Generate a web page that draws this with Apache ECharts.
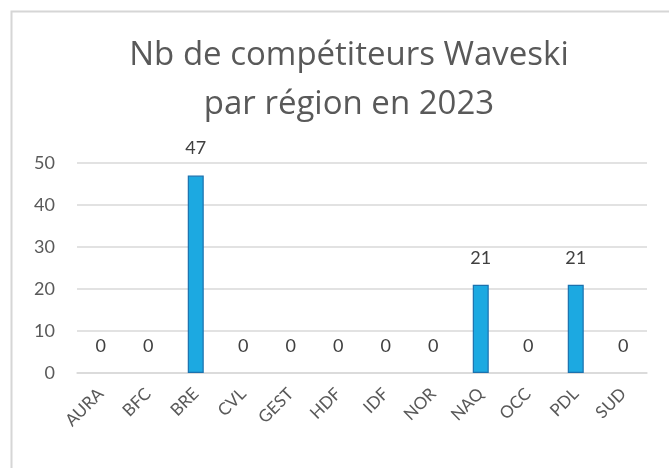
<!DOCTYPE html>
<html>
<head>
<meta charset="utf-8">
<script src="https://cdn.jsdelivr.net/npm/echarts@6/dist/echarts.min.js"></script>
<style>
html,body{margin:0;padding:0;background:#fff;}
#chart{width:669px;height:468px;}
</style>
</head>
<body>
<div id="chart"></div>
<script>
const titleLines = ["Nb de compétiteurs Waveski", "par région en 2023"];
const categories = ["AURA","BFC","BRE","CVL","GEST","HDF","IDF","NOR","NAQ","OCC","PDL","SUD"];
const values = [0,0,47,0,0,0,0,0,21,0,21,0];
const yTicks = {min:0, max:50, interval:10};

const chart = echarts.init(document.getElementById('chart'));
const font = 'Lato, "Open Sans", sans-serif';
const barData = values.map(v => v === 0 ? {value:v, itemStyle:{borderWidth:0}} : v);
chart.setOption({
  animation:false,
  backgroundColor:'#fff',
  graphic:[{
    type:'rect', silent:true,
    shape:{x:11.5, y:11.5, width:720, height:520},
    style:{fill:'none', stroke:'#d6d6d6', lineWidth:2}
  }],
  title:{
    text: titleLines.join('\n'),
    left:344, textAlign:'center', top:26,
    textStyle:{fontFamily:'"Open Sans", sans-serif', fontSize:33, fontWeight:'normal', color:'#595959', lineHeight:49}
  },
  grid:{left:77, right:22, top:163, bottom:95, containLabel:false},
  xAxis:{
    type:'category', data:categories,
    axisLine:{show:true, lineStyle:{color:'#d9d9d9', width:1.5}},
    axisTick:{show:false},
    axisLabel:{rotate:45, fontFamily:font, fontSize:17, color:'#595959', margin:18, interval:0}
  },
  yAxis:{
    type:'value', min:yTicks.min, max:yTicks.max, interval:yTicks.interval,
    axisLine:{show:false}, axisTick:{show:false},
    splitLine:{lineStyle:{color:'#d9d9d9', width:1.5}},
    axisLabel:{fontFamily:font, fontSize:18, color:'#595959', margin:22}
  },
  series:[{
    type:'bar', data:barData, barWidth:16,
    itemStyle:{color:'#1CA9E1', borderColor:'#1B71AE', borderWidth:1.2},
    label:{show:true, position:'top', distance:17, fontFamily:font, fontSize:18, color:'#404040', lineHeight:20}
  }]
});
</script>
</body>
</html>
